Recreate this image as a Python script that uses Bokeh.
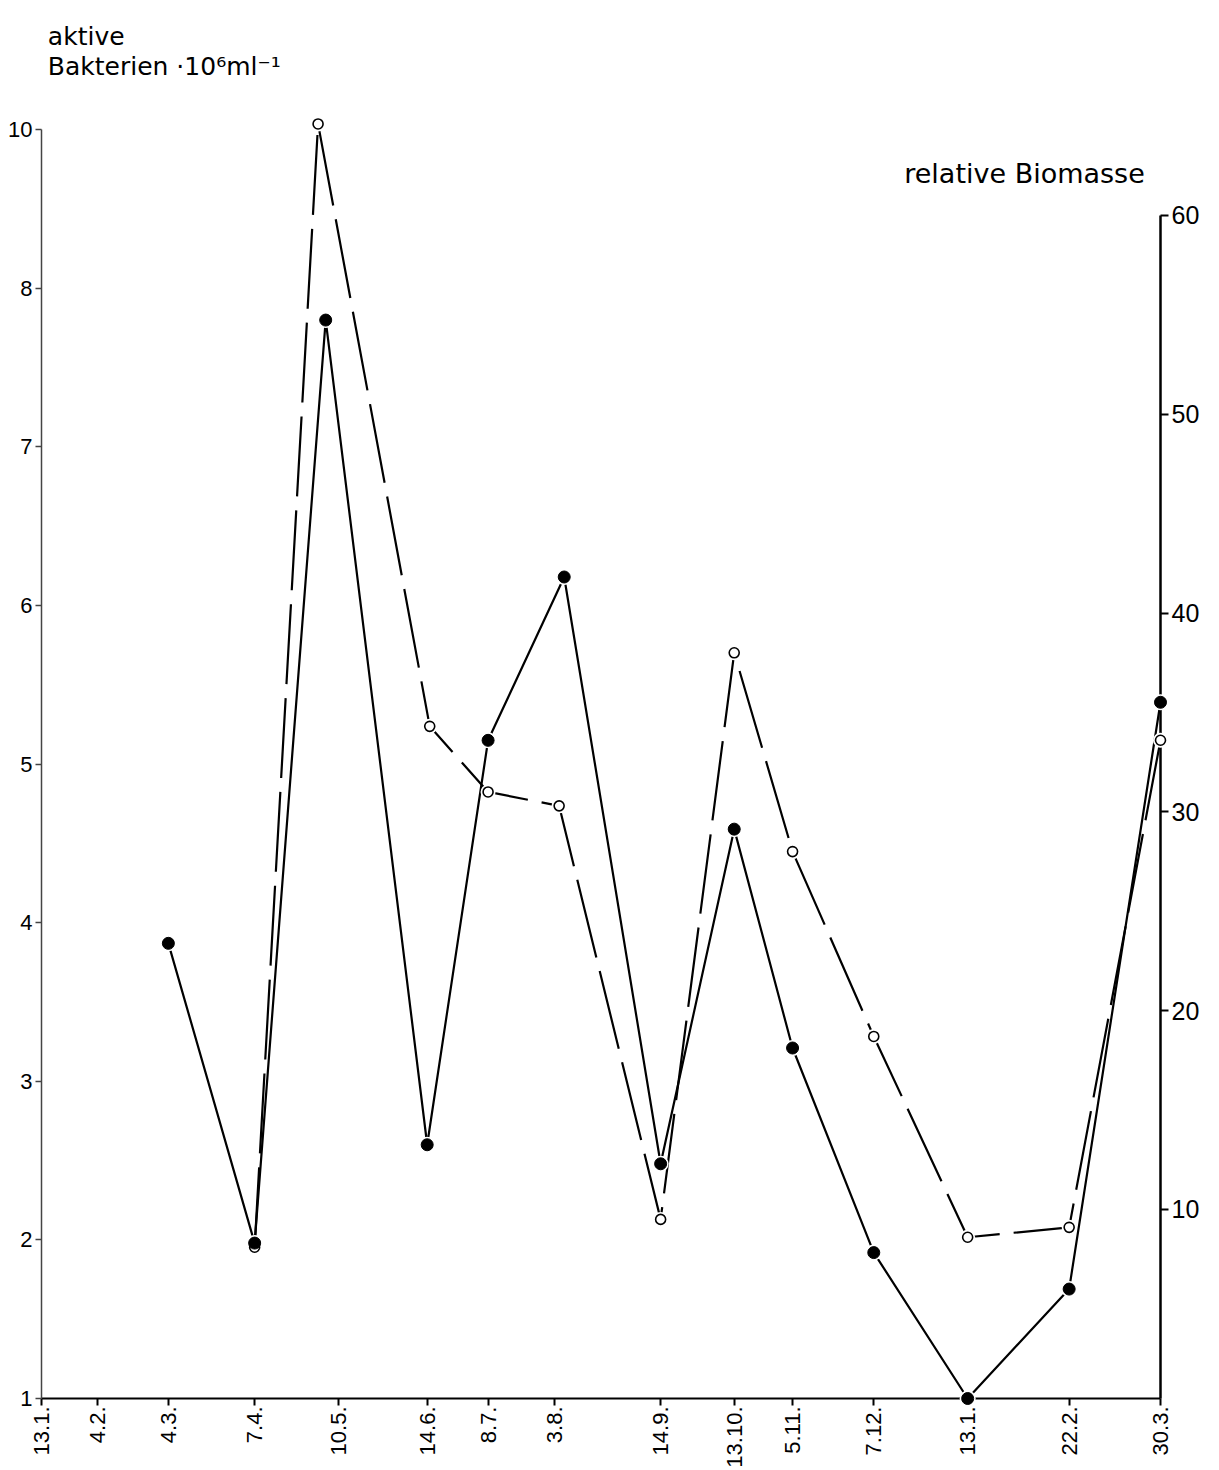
import math
from datetime import date

from bokeh.plotting import figure
from bokeh.models import Range1d, LinearAxis, FixedTicker, Label
from bokeh.embed import file_html
from bokeh.resources import INLINE

# Sampling calendar (day.month.), running over two seasons
tick_labels = ["13.1.", "4.2.", "4.3.", "7.4.", "10.5.", "14.6.", "8.7.", "3.8.",
               "14.9.", "13.10.", "5.11.", "7.12.", "13.1.", "22.2.", "30.3."]
tick_season = [0, 0, 0, 0, 0, 0, 0, 0, 0, 0, 0, 0, 1, 1, 1]

# Active bacteria (10^6 per ml), filled dots, left axis
bak_days = [50, 84, 112, 152, 176, 206, 244, 273, 296, 328, 365, 405, 441]
bak_vals = [3.87, 1.98, 7.80, 2.60, 5.15, 6.18, 2.48, 4.59, 3.21, 1.92, 1.00, 1.69, 5.39]

# Relative biomass, open circles, right axis
bio_days = [84, 109, 153, 176, 204, 244, 273, 296, 328, 365, 405, 441]
bio_vals = [8.1, 64.6, 34.3, 31.0, 30.3, 9.5, 38.0, 28.0, 18.7, 8.6, 9.1, 33.6]

left_ticks = [1, 2, 3, 4, 5, 6, 7, 8, 9]
left_labels = {1: "1", 2: "2", 3: "3", 4: "4", 5: "5", 6: "6", 7: "7", 8: "8", 9: "10"}
right_ticks = [10, 20, 30, 40, 50, 60]


def day_number(label, season):
    d, m = [int(v) for v in label.strip(".").split(".")]
    return (date(2001 + season, m, d) - date(2001, 1, 13)).days


tick_days = [day_number(l, s) for l, s in zip(tick_labels, tick_season)]

FONT = "DejaVu Sans"
NUM_FONT = "Liberation Sans"

# the frame reaches the top edge so the captions sit inside it
p = figure(width=1219, height=1470,
           x_range=Range1d(0, tick_days[-1]), y_range=Range1d(1.0, 9.815),
           output_backend="svg", toolbar_location=None,
           min_border_left=41, min_border_right=59,
           min_border_top=0, min_border_bottom=72)
p.extra_y_ranges = {"bio": Range1d(0.49, 70.81)}
p.grid.visible = False
p.outline_line_color = None
p.background_fill_color = "white"
p.border_fill_color = "white"

# time axis
xa = p.xaxis[0]
xa.ticker = FixedTicker(ticks=tick_days)
xa.major_label_overrides = {d: l for d, l in zip(tick_days, tick_labels)}
xa.major_label_orientation = math.pi / 2
xa.major_label_text_font = NUM_FONT
xa.major_label_text_font_size = "22px"
xa.major_label_text_color = "black"
xa.major_label_standoff = 1
xa.major_tick_out = 7
xa.major_tick_in = 0
xa.minor_tick_line_color = None
xa.axis_line_width = 2
xa.major_tick_line_width = 2
xa.axis_line_color = "black"

# bacteria axis
ya = p.yaxis[0]
ya.ticker = FixedTicker(ticks=left_ticks)
ya.major_label_overrides = left_labels
ya.bounds = (1, 9)
ya.major_label_text_font = NUM_FONT
ya.major_label_text_font_size = "22px"
ya.major_label_text_color = "black"
ya.major_label_standoff = 3
ya.major_tick_out = 6
ya.major_tick_in = 0
ya.minor_tick_line_color = None
ya.axis_line_color = "#444444"
ya.axis_line_width = 1.5
ya.major_tick_line_color = "#444444"
ya.major_tick_line_width = 1.5

# biomass axis
ra = LinearAxis(y_range_name="bio")
ra.ticker = FixedTicker(ticks=right_ticks)
ra.bounds = (0.49, 60)
ra.major_label_text_font = NUM_FONT
ra.major_label_text_font_size = "25px"
ra.major_label_text_color = "black"
ra.major_label_standoff = 3
ra.major_tick_out = 8
ra.major_tick_in = 0
ra.minor_tick_line_color = None
ra.axis_line_width = 2.5
ra.major_tick_line_width = 2
ra.axis_line_color = "black"
p.add_layout(ra, "right")

# connecting lines
p.line(bio_days, bio_vals, y_range_name="bio", line_color="black",
       line_width=2.2, line_dash="80 14", level="overlay")
p.line(bak_days, bak_vals, line_color="black", line_width=2.2, level="overlay")

# small white gaps where the lines meet the markers
p.scatter(bio_days, bio_vals, y_range_name="bio", size=15, fill_color="white",
          line_color=None, level="overlay")
p.scatter(bak_days, bak_vals, size=16, fill_color="white", line_color=None,
          level="overlay")

# markers
p.scatter(bio_days, bio_vals, y_range_name="bio", size=10, fill_color="white",
          line_color="black", line_width=1.6, level="overlay")
p.scatter(bak_days, bak_vals, size=12, fill_color="black", line_color="black",
          level="overlay")

# axis captions
p.add_layout(Label(x=2.5, y=9.588, text="aktive", text_font=FONT,
                   text_font_size="25px", text_color="black",
                   text_baseline="alphabetic"))
p.add_layout(Label(x=2.5, y=9.398, text="Bakterien  ·10⁶ml⁻¹", text_font=FONT,
                   text_font_size="25px", text_color="black",
                   text_baseline="alphabetic"))
p.add_layout(Label(x=340.0, y=8.724, text="relative  Biomasse", text_font=FONT,
                   text_font_size="27px", text_color="black",
                   text_baseline="alphabetic"))

open("out.html", "w").write(file_html(p, INLINE))
